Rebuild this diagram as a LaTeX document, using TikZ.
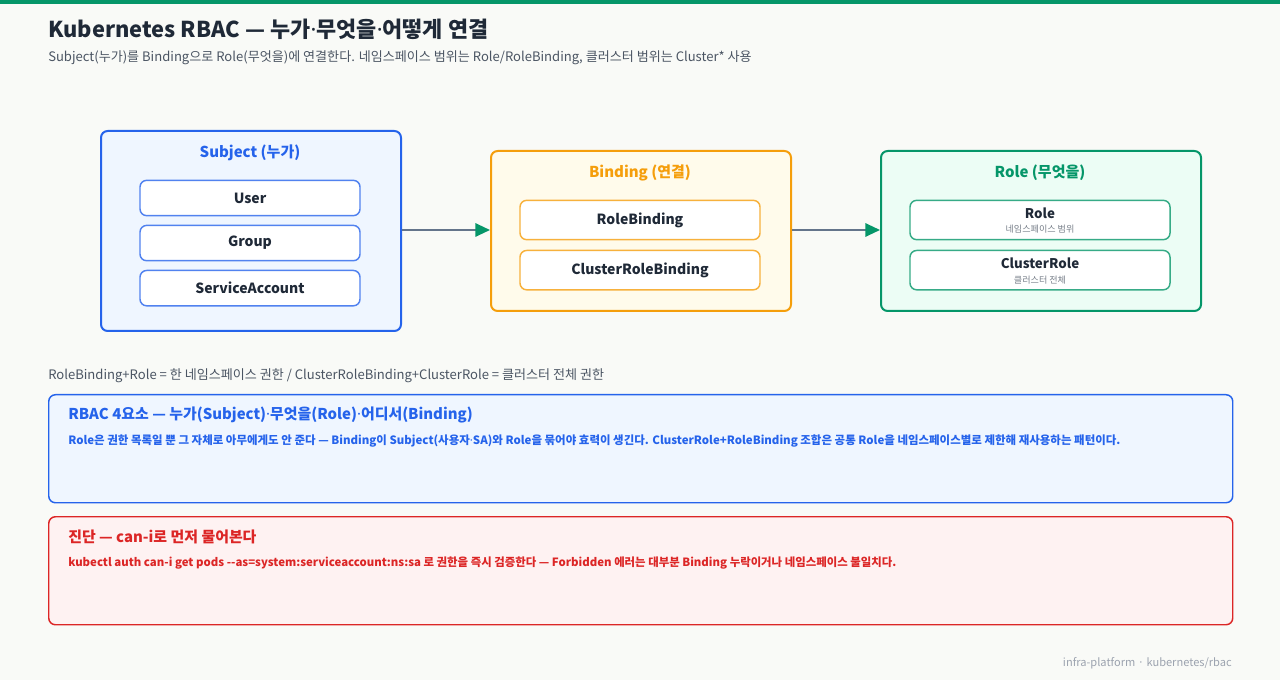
\documentclass[tikz,border=0pt]{standalone}
\usepackage{fontspec}
\setmainfont{Noto Sans CJK KR}
\newfontfamily\latinfont{Noto Sans}
\usetikzlibrary{arrows.meta}
\usetikzlibrary{positioning}

\definecolor{bgpaper}{HTML}{F9FAF7}
\definecolor{topbar}{HTML}{059669}
\definecolor{inkdark}{HTML}{1F2937}
\definecolor{inkgray}{HTML}{4B5563}
\definecolor{inkfoot}{HTML}{9CA3AF}
\definecolor{subjblue}{HTML}{2563EB}
\definecolor{subjfill}{HTML}{EFF6FF}
\definecolor{bindorange}{HTML}{F59E0B}
\definecolor{bindfill}{HTML}{FFFBEB}
\definecolor{rolegreen}{HTML}{059669}
\definecolor{rolefill}{HTML}{ECFDF5}
\definecolor{diagred}{HTML}{DC2626}
\definecolor{diagfill}{HTML}{FEF2F2}
\definecolor{linkgray}{HTML}{64748B}

% narrow middle dot
\newcommand{\mdot}{{\latinfont ·}}

\tikzset{>=latex}
\tikzset{
  group/.style={draw=#1, line width=1.5pt, rounded corners=5pt, anchor=north west},
  grouptitle/.style={font=\fontsize{11.25}{13}\selectfont\bfseries, text=#1},
  item/.style={draw=#1!80!white, fill=white, line width=1.1pt, rounded corners=5pt,
    minimum height=26.5pt, font=\fontsize{10.5}{12}\selectfont\bfseries, text=inkdark},
  subnote/.style={font=\fontsize{6.8}{8}\selectfont, text=inkgray!75!white},
  callout/.style={draw=#1, line width=1.1pt, rounded corners=5pt, anchor=north west,
    minimum width=888pt, minimum height=81pt},
  txt/.style={anchor=base west, inner sep=0pt},
  link/.style={draw=linkgray, line width=1.5pt, -{Triangle[length=11pt,width=10pt,color=rolegreen]}},
}

\begin{document}
\begin{tikzpicture}[x=0.75pt,y=-0.75pt]
	\useasboundingbox[fill=bgpaper] (0,0) rectangle (1280,680);
	\fill[topbar] (0,0) rectangle (1280,4);

	% heading
	\node[txt, font=\fontsize{16.4}{19}\selectfont\bfseries, text=inkdark]
		(title) at (48,38) {Kubernetes RBAC — 누가\mdot 무엇을\mdot 어떻게 연결};
	\node[txt, font=\fontsize{9.8}{12}\selectfont, text=inkgray]
		(subtitle) at (48,62) {Subject(누가)를 Binding으로 Role(무엇을)에 연결한다. 네임스페이스 범위는 Role/RoleBinding, 클러스터 범위는 Cluster* 사용};

	% subject
	\node[group=subjblue, fill=subjfill, minimum width=225pt, minimum height=150pt]
		(subject) at (100,130) {};
	\node[grouptitle=subjblue] (subjtitle) at (250,153) {Subject (누가)};
	\node[item=subjblue, minimum width=165pt] (user) at (250,198) {User};
	\node[item=subjblue, minimum width=165pt, below=6.2pt of user] (grp) {Group};
	\node[item=subjblue, minimum width=165pt, below=6.2pt of grp] (sa) {ServiceAccount};

	% binding
	\node[group=bindorange, fill=bindfill, minimum width=225pt, minimum height=120pt]
		(binding) at (490,150) {};
	\node[grouptitle=bindorange] (bindtitle) at (640,173) {Binding (연결)};
	\node[item=bindorange, minimum width=180pt, minimum height=29.5pt] (rb) at (640,220) {RoleBinding};
	\node[item=bindorange, minimum width=180pt, minimum height=29.5pt, below=7pt of rb] (crb) {ClusterRoleBinding};

	% role
	\node[group=rolegreen, fill=rolefill, minimum width=240pt, minimum height=120pt]
		(role) at (880,150) {};
	\node[grouptitle=rolegreen] (roletitle) at (1040,173) {Role (무엇을)};
	\node[item=rolegreen, minimum width=195pt, minimum height=29.5pt] (rl) at (1040,220) {};
	\node[item=rolegreen, minimum width=195pt, minimum height=29.5pt, below=7pt of rl] (crl) {};
	\node[font=\fontsize{10}{12}\selectfont\bfseries, text=inkdark] at (1040,213) {Role};
	\node[subnote] at (1040,229) {네임스페이스 범위};
	\node[font=\fontsize{10}{12}\selectfont\bfseries, text=inkdark] at (1040,263) {ClusterRole};
	\node[subnote] at (1040,280) {클러스터 전체};

	% connectors
	\draw[link] (subject.east |- 0,230) -- (binding.west |- 0,230);
	\draw[link] (binding.east |- 0,230) -- (role.west |- 0,230);

	% summary line
	\node[txt, font=\fontsize{9.8}{12}\selectfont, text=inkgray]
		(summary) at (48,380) {RoleBinding+Role = 한 네임스페이스 권한 / ClusterRoleBinding+ClusterRole = 클러스터 전체 권한};

	% callouts
	\node[callout=subjblue, fill=subjfill] (note) at (48,394) {};
	\node[txt, font=\fontsize{11.2}{14}\selectfont\bfseries, text=subjblue]
		at (68,420) {RBAC 4요소 — 누가(Subject)\mdot 무엇을(Role)\mdot 어디서(Binding)};
	\node[txt, font=\fontsize{8.6}{11}\selectfont\bfseries, text=subjblue]
		at (68,444) {Role은 권한 목록일 뿐 그 자체로 아무에게도 안 준다 — Binding이 Subject(사용자\mdot SA)와 Role을 묶어야 효력이 생긴다. ClusterRole+RoleBinding 조합은 공통 Role을 네임스페이스별로 제한해 재사용하는 패턴이다.};

	\node[callout=diagred, fill=diagfill] (diag) at (48,516) {};
	\node[txt, font=\fontsize{11.2}{14}\selectfont\bfseries, text=diagred]
		at (68,542) {진단 — can-i로 먼저 물어본다};
	\node[txt, font=\fontsize{8.55}{11}\selectfont\bfseries, text=diagred]
		at (68,566) {kubectl auth can-i get pods -{}-as=system:serviceaccount:ns:sa 로 권한을 즉시 검증한다 — Forbidden 에러는 대부분 Binding 누락이거나 네임스페이스 불일치다.};

	% footer
	\node[anchor=base east, inner sep=0pt, font=\fontsize{8.3}{10}\selectfont, text=inkfoot]
		(footer) at (1232,666) {infra-platform · kubernetes/rbac};
\end{tikzpicture}
\end{document}
